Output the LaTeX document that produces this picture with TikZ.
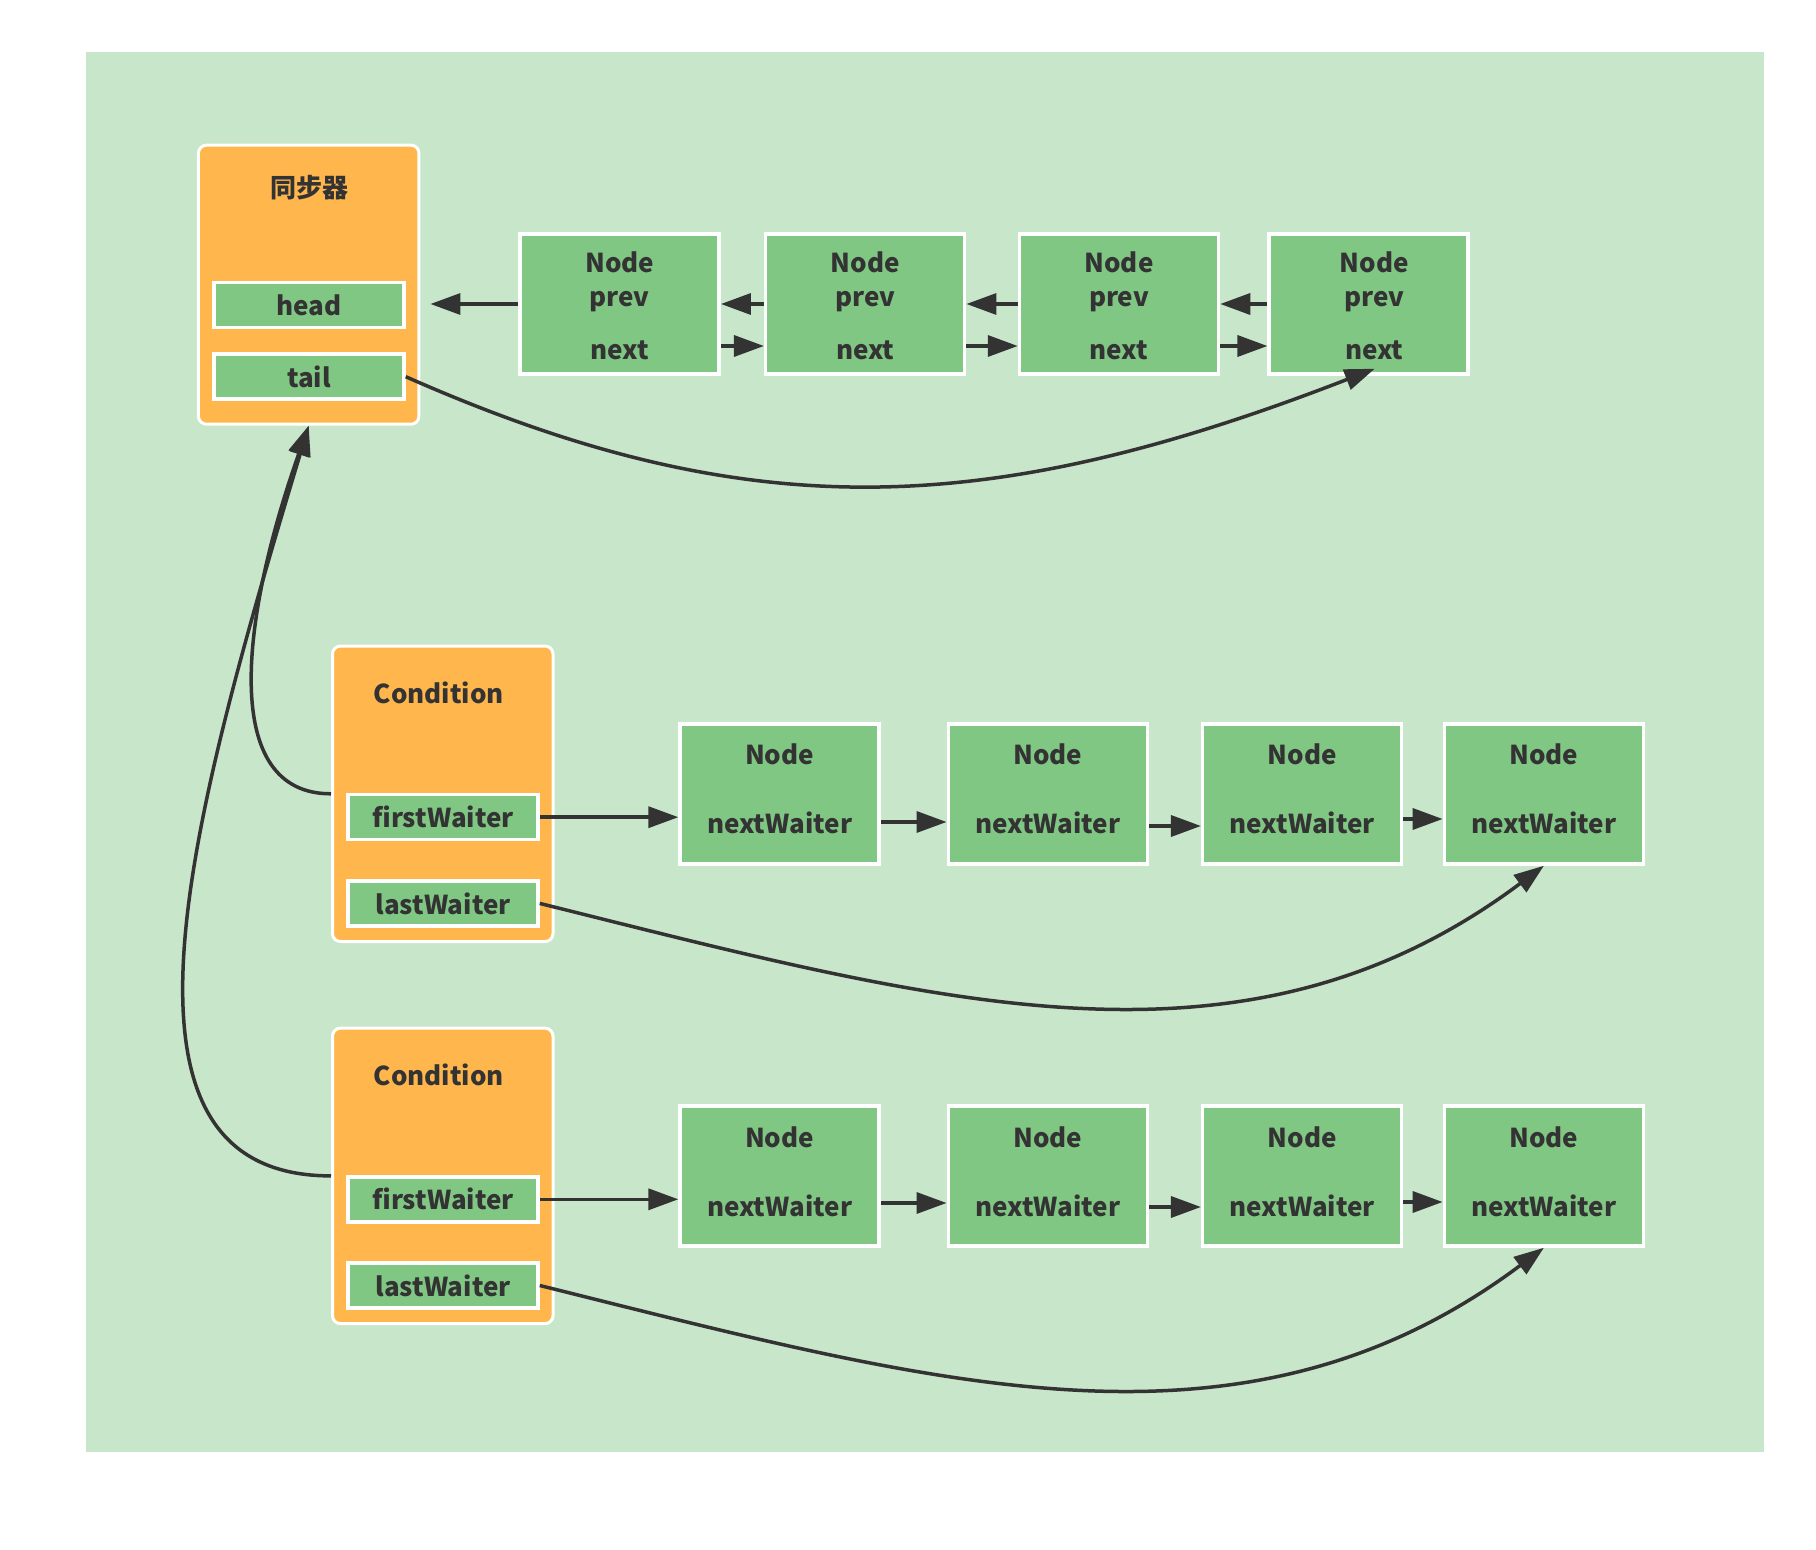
\documentclass[tikz,border=0pt]{standalone}
\usepackage{fontspec}
\setmainfont{Noto Sans CJK SC}
\usetikzlibrary{arrows.meta,calc}

\definecolor{bggreen}{HTML}{C8E6C9}
\definecolor{nodegreen}{HTML}{81C784}
\definecolor{holderorange}{HTML}{FFB74D}
\definecolor{ink}{HTML}{333333}

\tikzset{
  every node/.style={font=\fontsize{13}{15.6}\selectfont\bfseries, text=ink},
  listnode/.style={draw=white, line width=1.75pt, fill=nodegreen, minimum width=99.5pt, minimum height=70pt, inner sep=0pt},
  holder/.style={draw=white, line width=1.5pt, fill=holderorange, rounded corners=4pt, minimum width=110.25pt, inner sep=0pt},
  field/.style={draw=white, line width=1.75pt, fill=nodegreen, minimum width=95pt, minimum height=22.5pt, inner sep=0pt},
  word/.style={anchor=base, inner sep=0pt},
  link/.style={draw=ink, line width=1.75pt, -{Triangle[length=15pt,width=10.5pt]}},
}

\begin{document}
\begin{tikzpicture}[x=0.5pt,y=-0.5pt]
\useasboundingbox (0,0) rectangle (1816,1550);
\fill[white] (0,0) rectangle (1816,1550);
\fill[bggreen] (86,52) rectangle (1764,1452);

% synchroniser with head and tail
\node[holder, minimum height=139.5pt] (sync) at (308.7,284.7) {};
\path (sync.north) ++(1,44) node {同步器};
\node[field] (head) at (309,305) {head};
\node[field] (tail) at (309,376.7) {tail};

% sync queue
\foreach \n/\x/\s in {1/619.7/0,2/865.2/0,3/1119/0,4/1368.7/5.5} {
  \node[listnode] (t\n) at (\x,304) {};
  \path (t\n.center) ++(\s,-31.7) node[word] {Node};
  \path (t\n.center) ++(\s,2.7) node[word] {prev};
  \path (t\n.center) ++(\s,56) node[word] {next};
}

% two conditions
\foreach \k/\y in {1/793.8,2/1175.9} {
  \node[holder, minimum height=147.75pt] (c\k) at (442.75,\y) {};
  \path (c\k.north) ++(-4,48) node {Condition};
  \node[field] (fw\k) at (443,\y+23.4) {firstWaiter};
  \node[field] (lw\k) at (443,\y+109.6) {lastWaiter};
}

% condition queues
\foreach \r/\y in {m/794,b/1176} {
  \foreach \n/\x in {1/779.6,2/1047.8,3/1302.2,4/1543.9} {
    \node[listnode] (\r\n) at (\x,\y) {};
    \path (\r\n.center) ++(0,-29) node[word] {Node};
    \path (\r\n.center) ++(0,40) node[word] {nextWaiter};
  }
}

% prev / next links
\draw[link] (t1.west) -- ($(sync.east |- t1.west)+(10,0)$);
\foreach \a/\b in {1/2,2/3,3/4} {
  \draw[link] (t\b.west) -- (t\a.east);
  \draw[link] ($(t\a.east)+(0,42)$) -- ($(t\b.west)+(0,42)$);
}
\draw[link] (tail.east) .. controls (748,528) and (987,519) .. ($(t4.south)+(6,-7)$);

% nextWaiter links
\draw[link] (fw1.east) -- (fw1.east -| m1.west);
\draw[link] (fw2.east) -- (fw2.east -| b1.west);
\foreach \a/\b/\d/\e in {1/2/28/27,2/3/32/31,3/4/25/26} {
  \draw[link] ($(m\a.east)+(0,\d)$) -- ($(m\b.west)+(0,\d)$);
  \draw[link] ($(b\a.east)+(0,\e)$) -- ($(b\b.west)+(0,\e)$);
}
\draw[link] (lw1.east) .. controls (940,1003) and (1244,1090) .. (m4.south);
\draw[link] (lw2.east) .. controls (940,1385) and (1244,1472) .. (b4.south);

% back to the synchroniser
\draw[link] (c1.west) .. controls (220,794) and (240,620) .. (sync.south);
\draw[link] (c2.west) .. controls (90,1176) and (190,820) .. (sync.south);
\end{tikzpicture}
\end{document}
